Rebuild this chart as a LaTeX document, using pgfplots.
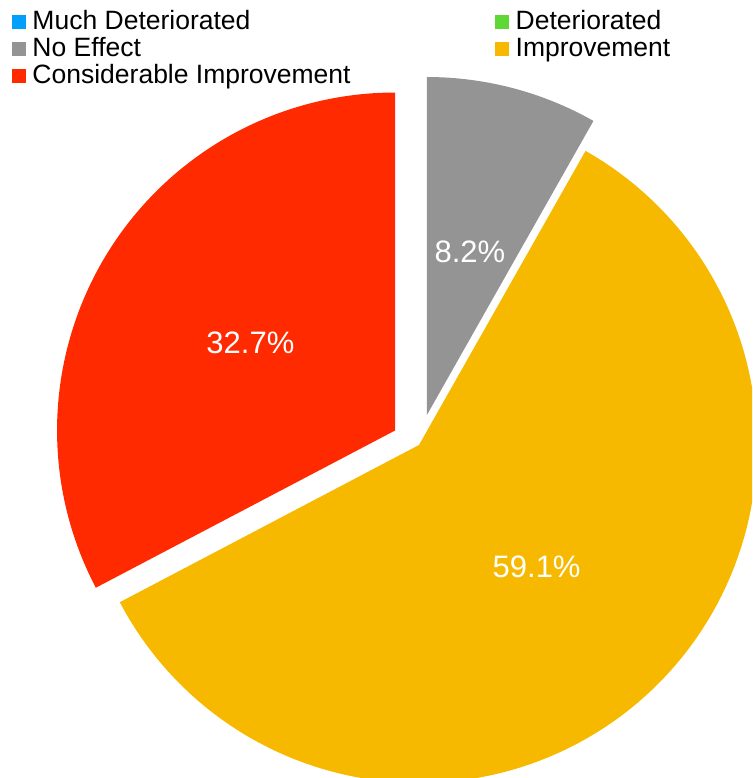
\documentclass[border=0pt]{standalone}
\usepackage{fontspec}
\setmainfont{Liberation Sans}
\usepackage{pgfplots}
\usepackage{pgfplotstable}
\pgfplotsset{compat=1.18}

\definecolor{cMuchDet}{RGB}{0,160,250}
\definecolor{cDet}{RGB}{95,215,55}
\definecolor{cNoEff}{RGB}{148,148,148}
\definecolor{cImp}{RGB}{247,185,0}
\definecolor{cConsImp}{RGB}{255,42,0}

% share of answers, percent (order as in the legend)
\pgfplotstableread{
slice value
1 0
2 0
3 8.2
4 59.1
5 32.7
}\piedata

\pgfplotstablegetelem{2}{value}\of\piedata \edef\vNoEff{\pgfplotsretval}
\pgfplotstablegetelem{3}{value}\of\piedata \edef\vImp{\pgfplotsretval}
\pgfplotstablegetelem{4}{value}\of\piedata \edef\vCons{\pgfplotsretval}

% clockwise from 12 o'clock
\pgfmathsetmacro\aG{90-3.6*\vNoEff}
\pgfmathsetmacro\aY{\aG-3.6*\vImp}
\pgfmathsetmacro\aR{\aY-3.6*\vCons}

\def\cx{419}
\def\cy{333}
\def\R{338}

% exploded centres and label spots
\pgfmathsetmacro\mG{(\aG+90)/2}
\pgfmathsetmacro\gx{\cx+31*cos(\mG)}
\pgfmathsetmacro\gy{\cy+31*sin(\mG)}
\pgfmathsetmacro\mY{(\aY+\aG)/2}
\pgfmathsetmacro\yx{\cx}
\pgfmathsetmacro\yy{\cy}
\pgfmathsetmacro\mR{(\aR+\aY)/2}
\pgfmathsetmacro\rx{\cx+28*cos(\mR)}
\pgfmathsetmacro\ry{\cy+28*sin(\mR)}

\pgfmathsetmacro\lgx{\gx+0.5*\R*cos(\mG)}
\pgfmathsetmacro\lgy{\gy+0.5*\R*sin(\mG)}
\pgfmathsetmacro\lyx{\yx+0.5*\R*cos(\mY)}
\pgfmathsetmacro\lyy{\yy+0.5*\R*sin(\mY)}
\pgfmathsetmacro\lrx{\rx+0.5*\R*cos(\mR)}
\pgfmathsetmacro\lry{\ry+0.5*\R*sin(\mR)}

% slice: from angle, to angle, centre x, centre y, colour
\newcommand\pieslice[5]{%
  \addplot[fill=#5, draw=none, forget plot, samples at={-1,0,...,121}, variable=\t]
    ({#3+\R*(\t>=0)*(\t<=120)*cos((#1)+((#2)-(#1))*\t/120)},
     {#4+\R*(\t>=0)*(\t<=120)*sin((#1)+((#2)-(#1))*\t/120)});
}

\begin{document}
\begin{tikzpicture}
\begin{axis}[
    hide axis,
    scale only axis,
    width=752pt, height=778pt,
    xmin=0, xmax=752, ymin=0, ymax=778,
    clip bounding box=upper bound,
    legend columns=2,
    legend cell align=left,
    legend image code/.code={\fill[#1, draw=none] (0pt,-5.5pt) rectangle (13.5pt,8pt);},
    legend style={
        at={(0,1)}, anchor=north west, xshift=12pt, yshift=-10pt,
        draw=none, fill=none, inner sep=0pt, outer sep=0pt, row sep=0pt,
        font=\fontsize{26.5}{27}\selectfont,
        nodes={inner sep=0.5pt, text height=19pt, text depth=7pt},
        /tikz/every odd column/.append style={column sep=6.5pt},
        /tikz/every even column/.append style={column sep=144pt},
    },
]
% invisible frame so the page keeps the whole axis area
\addplot[draw=none, forget plot] coordinates {(0,0) (752,778)};

\pieslice{\aG}{90}{\gx}{\gy}{cNoEff}
\pieslice{\aY}{\aG}{\yx}{\yy}{cImp}
\pieslice{\aR}{\aY}{\rx}{\ry}{cConsImp}

\addlegendimage{fill=cMuchDet}
\addlegendentry{Much Deteriorated}
\addlegendimage{fill=cDet}
\addlegendentry{Deteriorated}
\addlegendimage{fill=cNoEff}
\addlegendentry{No Effect}
\addlegendimage{fill=cImp}
\addlegendentry{Improvement}
\addlegendimage{fill=cConsImp}
\addlegendentry{Considerable Improvement}

\node[text=white, font=\fontsize{31}{36}\selectfont] at (axis cs:\lgx,\lgy) {\vNoEff\%};
\node[text=white, font=\fontsize{31}{36}\selectfont] at (axis cs:\lyx,\lyy) {\vImp\%};
\node[text=white, font=\fontsize{31}{36}\selectfont] at (axis cs:\lrx,\lry) {\vCons\%};
\end{axis}
\end{tikzpicture}
\end{document}
